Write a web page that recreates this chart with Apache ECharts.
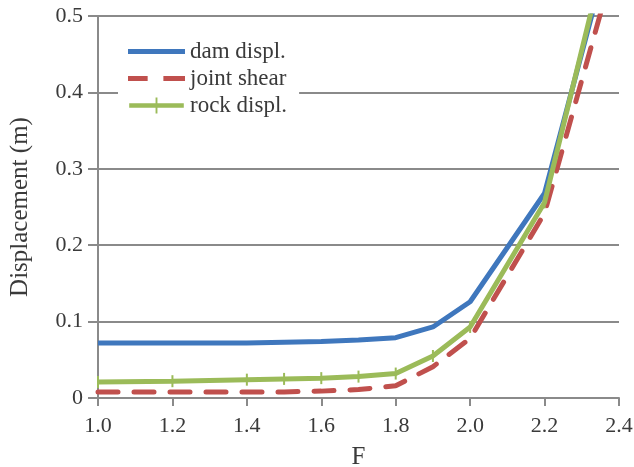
<!DOCTYPE html>
<html><head><meta charset="utf-8">
<script src="https://cdn.jsdelivr.net/npm/echarts@6/dist/echarts.min.js"></script>
<style>html,body{margin:0;padding:0;background:#fff}#c{width:634px;height:467px}</style>
</head><body><div id="c"></div>
<script>
const seriesNames = ['dam displ.', 'joint shear', 'rock displ.'];
const damF = [1.0, 1.2, 1.4, 1.5, 1.6, 1.7, 1.8, 1.9, 2.0, 2.2, 2.4];
const damV = [0.072, 0.072, 0.072, 0.073, 0.074, 0.076, 0.079, 0.093, 0.126, 0.268, 0.635];
const jointF = [1.0, 1.2, 1.4, 1.5, 1.6, 1.7, 1.8, 1.9, 2.0, 2.2, 2.4];
const jointV = [0.008, 0.008, 0.008, 0.008, 0.009, 0.011, 0.016, 0.041, 0.078, 0.242, 0.59];
const rockF = [1.0, 1.2, 1.4, 1.5, 1.6, 1.7, 1.8, 1.9, 2.0, 2.2, 2.4];
const rockV = [0.021, 0.022, 0.024, 0.025, 0.026, 0.028, 0.032, 0.055, 0.093, 0.256, 0.655];
const font = 'Liberation Serif';
const pair = (a, b) => a.map((x, i) => [x, b[i]]);
const chart = echarts.init(document.getElementById('c'));
chart.setOption({
  animation: false,
  backgroundColor: '#fff',
  grid: {left: 98, right: 15, top: 16, bottom: 69, containLabel: false, outerBoundsMode: 'none'},
  legend: {
    left: 118, top: 32, orient: 'vertical', itemGap: 4, itemTextGap: 15,
    itemWidth: 57, itemHeight: 16, backgroundColor: '#fff', padding: [8, 12, 8, 10],
    textStyle: {fontFamily: font, fontSize: 23, color: '#3a3a3a'},
    data: [
      {name: seriesNames[0], icon: 'path://M0,0 L58,0 L58,5 L0,5 Z'},
      {name: seriesNames[1], icon: 'path://M0,0 L20,0 L20,5 L0,5 Z M36,0 L58,0 L58,5 L36,5 Z'},
      {name: seriesNames[2], icon: 'path://M0,6 L28,6 L28,0 L30,0 L30,6 L58,6 L58,11 L30,11 L30,17 L28,17 L28,11 L0,11 Z'}
    ]
  },
  xAxis: {
    type: 'value', min: 1.0, max: 2.4, interval: 0.2,
    name: 'F', nameLocation: 'middle', nameGap: 47,
    nameTextStyle: {fontFamily: font, fontSize: 25, color: '#3a3a3a'},
    axisLine: {lineStyle: {color: '#8a8a8a', width: 2}},
    axisTick: {show: true, length: 8, lineStyle: {color: '#8a8a8a', width: 2}},
    splitLine: {show: false},
    axisLabel: {fontFamily: font, fontSize: 22, color: '#3a3a3a', margin: 17, formatter: v => v.toFixed(1)}
  },
  yAxis: {
    type: 'value', min: 0, max: 0.5, interval: 0.1,
    name: 'Displacement (m)', nameLocation: 'middle', nameGap: 65, nameRotate: 90,
    nameTextStyle: {fontFamily: font, fontSize: 25, color: '#3a3a3a'},
    axisLine: {show: true, lineStyle: {color: '#8a8a8a', width: 2}},
    axisTick: {show: true, length: 10, lineStyle: {color: '#8a8a8a', width: 2}},
    splitLine: {show: true, lineStyle: {color: '#8a8a8a', width: 2}},
    axisLabel: {fontFamily: font, fontSize: 22, color: '#3a3a3a', margin: 15,
      formatter: v => v === 0 ? '0' : v.toFixed(1)}
  },
  series: [
    {name: seriesNames[0], type: 'line', data: pair(damF, damV), showSymbol: false, symbol: 'none',
     color: '#3f77bd', lineStyle: {width: 5, color: '#3f77bd'}, z: 2},
    {name: seriesNames[1], type: 'line', data: pair(jointF, jointV), showSymbol: false, symbol: 'none',
     color: '#c0504d', lineStyle: {width: 5, color: '#c0504d', type: [20, 16], cap: 'round'}, z: 3},
    {name: seriesNames[2], type: 'line', data: pair(rockF, rockV), symbol: 'rect', symbolSize: [2, 12],
     showSymbol: true, color: '#9bbb59', itemStyle: {color: '#9bbb59'},
     lineStyle: {width: 5, color: '#9bbb59'}, z: 4}
  ]
});
</script></body></html>
